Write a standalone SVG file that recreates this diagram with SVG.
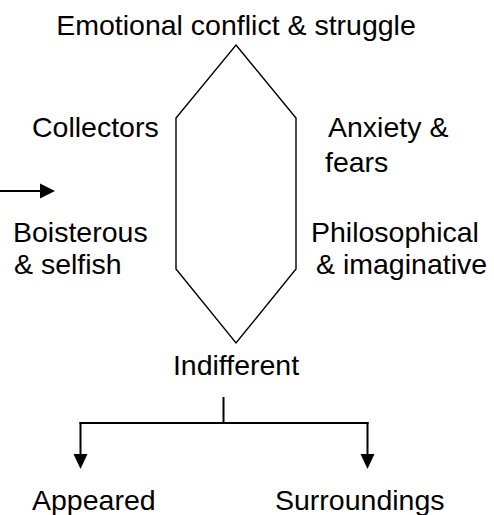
<svg xmlns="http://www.w3.org/2000/svg" width="494" height="515" viewBox="0 0 494 515">
<style>
text { font-family: "Liberation Sans", Arial, sans-serif; font-size: 28.5px; fill: #000; }
.shape { fill: none; stroke: #000; stroke-width: 1.4; }
.conn { fill: none; stroke: #000; stroke-width: 2; }
.head { fill: #000; stroke: none; }
</style>
<rect width="494" height="515" fill="#fff"/>
<g id="hexagon">
<polygon class="shape" points="236,45 296,118 296,269 236,343 176,269 176,118"/>
</g>
<g id="top"><text x="236" y="35" text-anchor="middle">Emotional conflict &amp; struggle</text></g>
<g id="collectors"><text x="32" y="137">Collectors</text></g>
<g id="anxiety"><text x="328" y="137">Anxiety &amp;</text><text x="325" y="172">fears</text></g>
<g id="boisterous"><text x="13" y="242">Boisterous</text><text x="14" y="274">&amp; selfish</text></g>
<g id="philosophical"><text x="311" y="242">Philosophical</text><text x="316" y="274">&amp; imaginative</text></g>
<g id="indifferent"><text x="236" y="375" text-anchor="middle">Indifferent</text></g>
<g id="appeared"><text x="32" y="510">Appeared</text></g>
<g id="surroundings"><text x="275" y="510">Surroundings</text></g>
<g id="connectors">
<line class="conn" x1="0" y1="191" x2="40" y2="191"/>
<polygon class="head" points="40,183.5 55,191 40,198.5"/>
<line class="conn" x1="223.5" y1="397" x2="223.5" y2="423"/>
<line class="conn" x1="79.5" y1="423" x2="368.5" y2="423"/>
<line class="conn" x1="80.5" y1="422" x2="80.5" y2="455"/>
<polygon class="head" points="73.5,454 87.5,454 80.5,469"/>
<line class="conn" x1="367.5" y1="422" x2="367.5" y2="455"/>
<polygon class="head" points="360.5,454 374.5,454 367.5,469"/>
</g>
</svg>
